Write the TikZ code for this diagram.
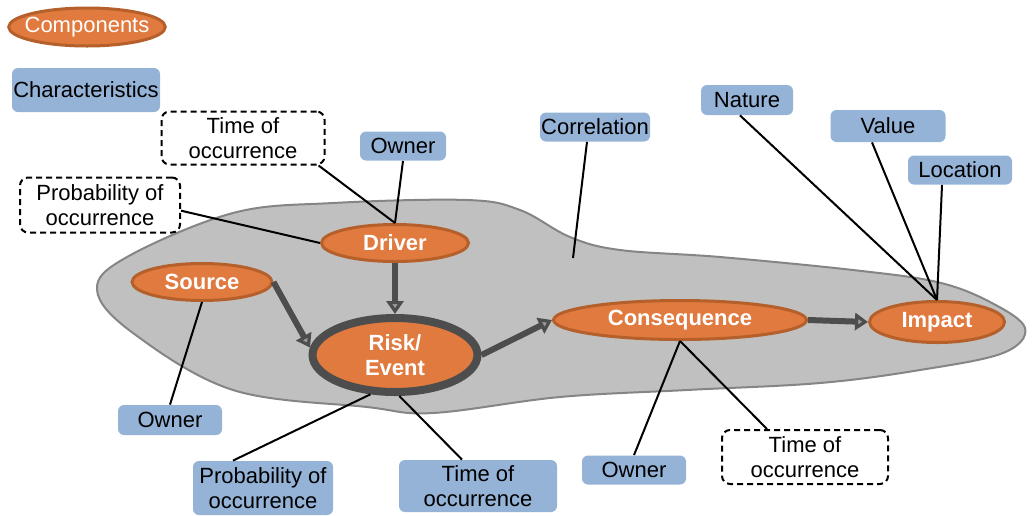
\documentclass[tikz,border=0pt]{standalone}
\usepackage{fontspec}
\setmainfont{Liberation Sans}
\usetikzlibrary{shapes.geometric,arrows.meta}
\definecolor{comporange}{HTML}{E07A3F}
\definecolor{compedge}{HTML}{B5602B}
\definecolor{charblue}{HTML}{95B3D7}
\definecolor{blobgray}{HTML}{C0C0C0}
\definecolor{blobedge}{HTML}{858585}
\definecolor{flowgray}{HTML}{4D4D4D}
\begin{document}
\begin{tikzpicture}[x=0.5pt, y=-0.5pt,
    every node/.style={font=\fontsize{11}{12.5}\selectfont, align=center},
    comp/.style={ellipse, draw=compedge, line width=1.5pt, fill=comporange,
        text=white, font=\fontsize{11}{12.5}\selectfont\bfseries, inner sep=0pt},
    charbox/.style={rectangle, rounded corners=3pt, fill=charblue, inner sep=0pt},
    openbox/.style={rectangle, rounded corners=4pt, draw=black, fill=white,
        line width=1pt, dash pattern=on 3pt off 2pt, inner sep=0pt},
    link/.style={draw=black, line width=1pt},
    flow/.style={draw=flowgray, line width=3pt,
        -{Triangle[open, fill=blobgray!80!black, length=6.5pt, width=8.5pt, line width=1.6pt]}}]
    \useasboundingbox (0, 0) rectangle (1032, 515);

    % the grey area
    \filldraw[fill=blobgray, draw=blobedge, line width=1pt]
        plot[smooth cycle, tension=0.6] coordinates {(97, 290) (127, 257) (233, 213)
        (333, 203) (467, 200) (520, 210) (570, 237) (620, 250) (720, 257) (853, 270)
        (937, 282) (990, 302) (1025, 328) (1003, 353) (920, 370) (820, 383) (687, 390)
        (560, 397) (433, 413) (367, 407) (233, 390) (133, 333)};

    % legend
    \node[comp, font=\fontsize{11}{12.5}\selectfont, inner xsep=-3.5pt,
        minimum width=75pt, minimum height=19pt] (Legend) at (87, 27) {Components};
    \node[charbox, minimum width=74pt, minimum height=22pt] (LegendChar) at (86, 90) {Characteristics};

    % components
    \node[comp, minimum width=73.5pt, minimum height=18.5pt] (Driver) at (395, 243) {Driver};
    \node[comp, minimum width=70pt, minimum height=18.5pt] (Source) at (202, 282) {Source};
    \node[comp, draw=flowgray, line width=4pt, minimum width=82.5pt, minimum height=37pt] (Risk) at (395, 355) {Risk/\\Event};
    \node[comp, minimum width=126.5pt, minimum height=19.5pt] (Cons) at (680, 320) {Consequence};
    \node[comp, minimum width=67.5pt, minimum height=20.5pt] (Impact) at (937, 322) {Impact};

    % characteristics
    \node[openbox, minimum width=81.5pt, minimum height=26.5pt] (TimeD) at (243, 138) {Time of\\occurrence};
    \node[charbox, minimum width=43pt, minimum height=14.5pt] (OwnerD) at (403, 146) {Owner};
    \node[openbox, minimum width=80pt, minimum height=27.5pt] (ProbD) at (100, 205) {Probability of\\occurrence};
    \node[charbox, minimum width=52pt, minimum height=15pt] (OwnerS) at (170, 420) {Owner};
    \node[charbox, minimum width=70pt, minimum height=27pt] (ProbR) at (263, 488) {Probability of\\occurrence};
    \node[charbox, minimum width=79pt, minimum height=26pt] (TimeR) at (478, 486) {Time of\\occurrence};
    \node[charbox, minimum width=52pt, minimum height=14.5pt] (OwnerC) at (634, 470) {Owner};
    \node[openbox, minimum width=83pt, minimum height=27pt] (TimeC) at (805, 457) {Time of\\occurrence};
    \node[charbox, minimum width=55pt, minimum height=14.5pt] (Corr) at (595, 127) {Correlation};
    \node[charbox, minimum width=46pt, minimum height=15pt] (Nature) at (747, 100) {Nature};
    \node[charbox, minimum width=57.5pt, minimum height=16pt] (Value) at (888, 126) {Value};
    \node[charbox, minimum width=52pt, minimum height=14.5pt] (Location) at (960, 170) {Location};
    \path (573, 258) coordinate (CorrEnd);

    % links
    \draw[link] (TimeD.-20) -- (Driver.north);
    \draw[link] (OwnerD.south) -- (Driver.north);
    \draw[link] (ProbD.-4) -- (Driver.west);
    \draw[link] (Source.south) -- (OwnerS.north);
    \draw[link] (Risk.-122) -- ([xshift=-15pt]ProbR.north);
    \draw[link] (Risk.-84) -- ([xshift=-8pt]TimeR.north);
    \draw[link] (Cons.south) -- (OwnerC.north);
    \draw[link] (Cons.south) -- ([xshift=-19pt]TimeC.north);
    \draw[link] ([xshift=-4pt]Corr.south) -- (CorrEnd);
    \draw[link] ([xshift=-3.5pt]Nature.south) -- (Impact.north);
    \draw[link] ([xshift=-8pt]Value.south) -- (Impact.north);
    \draw[link] ([xshift=-9pt]Location.south) -- (Impact.north);

    % flow
    \draw[flow] (Source.east) -- (Risk.175);
    \draw[flow] (Driver.south) -- (Risk.north);
    \draw[flow] (Risk.east) -- (Cons.west);
    \draw[flow] (Cons.east) -- (Impact.west);
\end{tikzpicture}
\end{document}
